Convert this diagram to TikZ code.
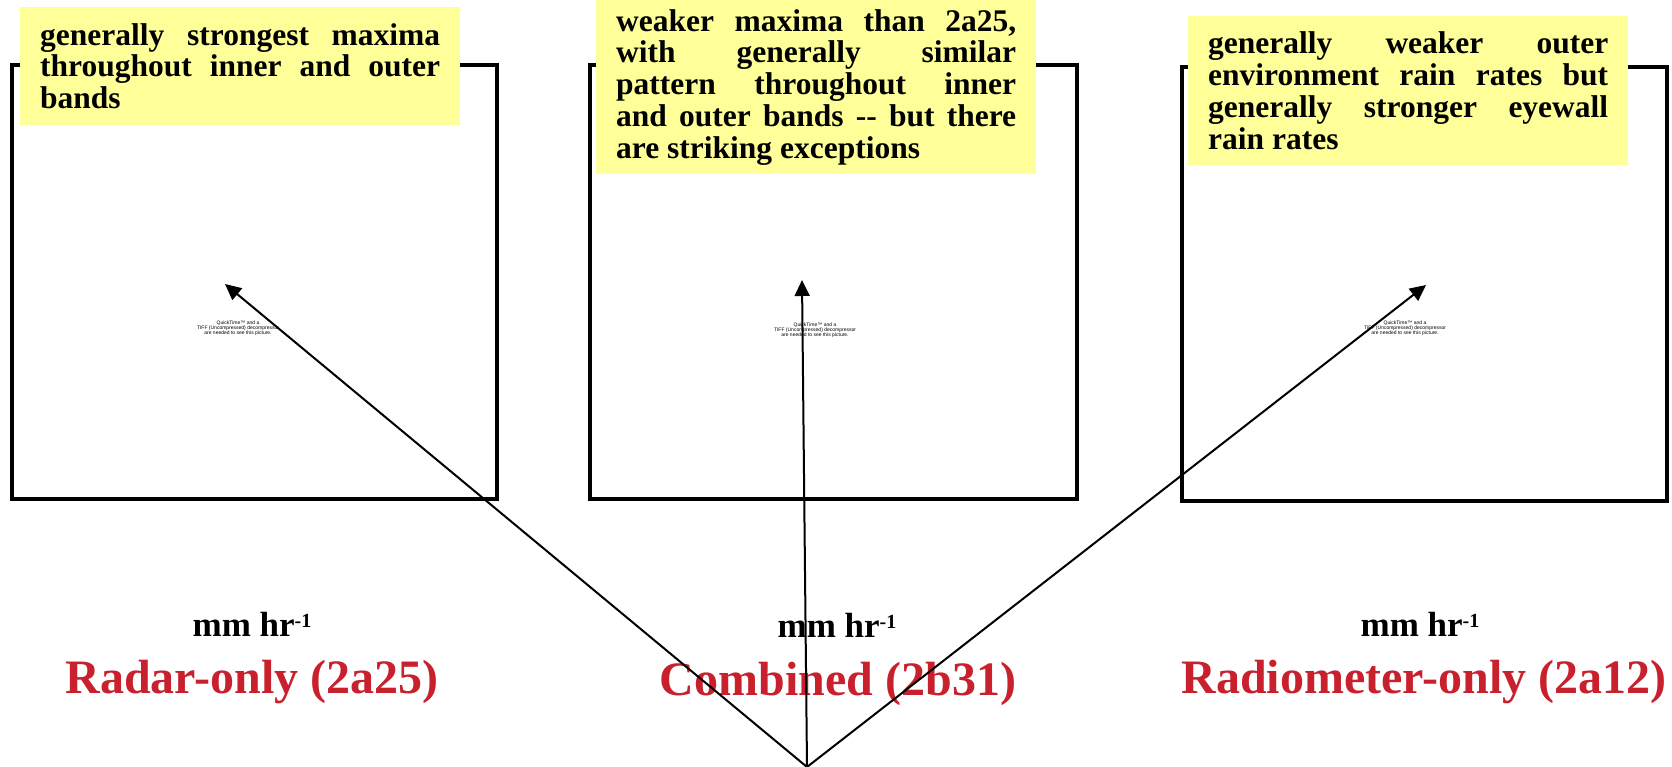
\documentclass[tikz,border=0pt]{standalone}
\usepackage{fontspec}
\setmainfont{Liberation Serif}
\newfontfamily\qtfont{Liberation Sans}
\usetikzlibrary{arrows.meta}
\definecolor{notey}{RGB}{255,255,153}
\definecolor{titlered}{RGB}{200,32,44}
\tolerance=10000
\hyphenpenalty=10000
\tikzset{
  frame/.style={draw=black, line width=3.5pt, fill=none, inner sep=0pt, minimum height=434pt},
  ybox/.style={fill=notey, text width=400pt, inner xsep=20pt, inner ysep=0pt, align=justify,
    font=\fontsize{31.5}{31.7}\selectfont\bfseries},
  unitlab/.style={font=\fontsize{35}{40}\selectfont\bfseries, anchor=base, inner sep=0pt},
  titlelab/.style={font=\fontsize{48}{54}\selectfont\bfseries, text=titlered, anchor=base, inner sep=0pt},
  qt/.style={font=\qtfont\fontsize{5}{5.2}\selectfont, align=center, inner sep=0pt},
  pointer/.style={line width=2pt, -{Triangle[length=16pt,width=15pt]}}
}
\newcommand{\mmhr}{mm hr\raisebox{9pt}{\fontsize{20}{21}\selectfont -1}}
\begin{document}
\begin{tikzpicture}[x=1pt,y=-1pt]
\useasboundingbox (0,0) rectangle (1672,767);
% frames
\node[frame, minimum width=485pt] (f1) at (254.5,282) {};
\node[frame, minimum width=487pt] (f2) at (833.5,282) {};
\node[frame, minimum width=485pt] (f3) at (1424.5,284) {};
% placeholder texts
\node[qt] (q1) at (238,328) {QuickTime™ and a\\TIFF (Uncompressed) decompressor\\are needed to see this picture.};
\node[qt] (q2) at (815,330) {QuickTime™ and a\\TIFF (Uncompressed) decompressor\\are needed to see this picture.};
\node[qt] (q3) at (1405,328) {QuickTime™ and a\\TIFF (Uncompressed) decompressor\\are needed to see this picture.};
% unit labels
\node[unitlab] (u1) at (252,636) {\mmhr};
\node[unitlab] (u2) at (837,637) {\mmhr};
\node[unitlab] (u3) at (1420,636) {\mmhr};
% titles
\node[titlelab] (t1) at (252,693) {Radar-only (2a25)};
\node[titlelab] (t2) at (838,695) {Combined (2b31)};
\node[titlelab] (t3) at (1424,693) {Radiometer-only (2a12)};
% arrows
\coordinate (o) at (807,767);
\coordinate (p1) at (225,284);
\coordinate (p2) at (802,280);
\coordinate (p3) at (1426,285);
\draw[pointer] (o) -- (p1);
\draw[pointer] (o) -- (p2);
\draw[pointer] (o) -- (p3);
% notes
\node[ybox, minimum height=118pt, anchor=north west] (n1) at (20,7)
  {generally strongest maxima\linebreak throughout inner and outer\linebreak bands};
\node[ybox, minimum height=174pt, anchor=north west] (n2) at (596,0)
  {weaker maxima than 2a25,\linebreak with generally similar\linebreak pattern throughout inner\linebreak and outer bands -{}- but there\linebreak are striking exceptions};
\node[ybox, minimum height=149pt, anchor=north west] (n3) at (1188,16)
  {generally weaker outer\linebreak environment rain rates but\linebreak generally stronger eyewall\linebreak rain rates};
\end{tikzpicture}
\end{document}
